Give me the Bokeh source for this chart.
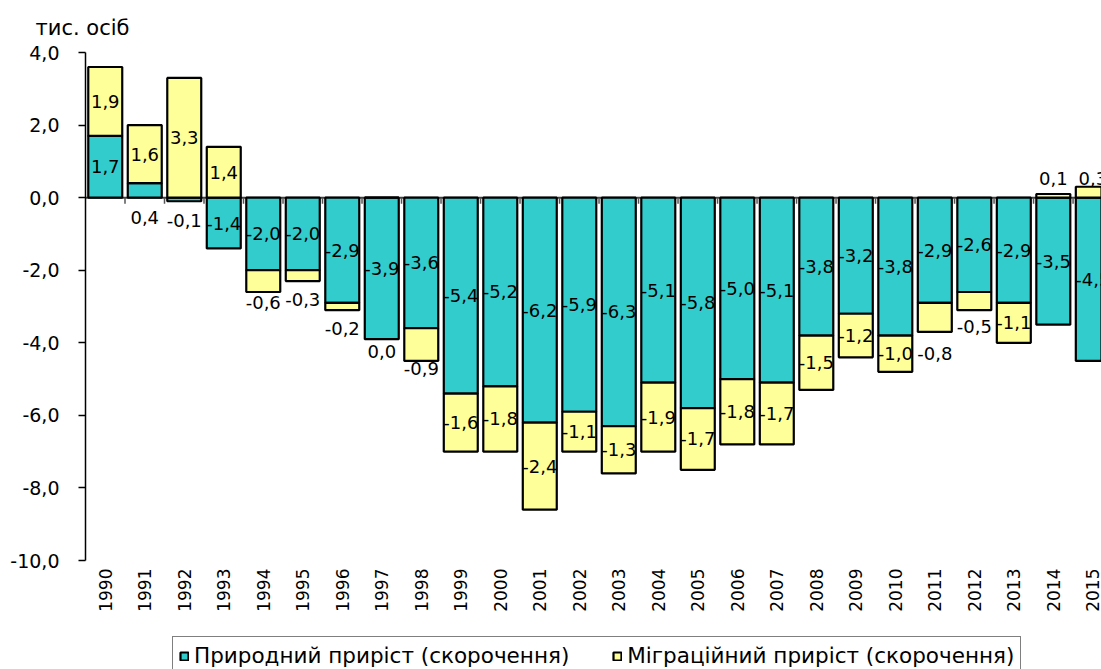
import math
from bokeh.plotting import figure
from bokeh.models import (Range1d, FixedTicker, Span, ColumnDataSource, Legend,
                          LegendItem, Title)
from bokeh.core.properties import value
from bokeh.embed import file_html
from bokeh.resources import INLINE

# ---------------- data ----------------
years = [1990, 1991, 1992, 1993, 1994, 1995, 1996, 1997, 1998, 1999, 2000, 2001, 2002,
         2003, 2004, 2005, 2006, 2007, 2008, 2009, 2010, 2011, 2012, 2013, 2014, 2015]
natural = [1.7, 0.4, -0.1, -1.4, -2.0, -2.0, -2.9, -3.9, -3.6, -5.4, -5.2, -6.2, -5.9,
           -6.3, -5.1, -5.8, -5.0, -5.1, -3.8, -3.2, -3.8, -2.9, -2.6, -2.9, -3.5, -4.5]
migration = [1.9, 1.6, 3.3, 1.4, -0.6, -0.3, -0.2, 0.0, -0.9, -1.6, -1.8, -2.4, -1.1,
             -1.3, -1.9, -1.7, -1.8, -1.7, -1.5, -1.2, -1.0, -0.8, -0.5, -1.1, 0.1, 0.3]
y_ticks = [-10, -8, -6, -4, -2, 0, 2, 4]
y_tick_labels = ["-10,0", "-8,0", "-6,0", "-4,0", "-2,0", "0,0", "2,0", "4,0"]
series_names = ["Природний приріст (скорочення)", "Міграційний приріст (скорочення)"]
y_unit = "тис. осіб"

# labels that sit outside their segment (label y in data units)
label_outside = {
    (0, 1991): -0.55, (0, 1992): -0.63,
    (1, 1994): -2.9, (1, 1995): -2.8, (1, 1996): -3.6, (1, 1997): -4.23,
    (1, 1998): -4.72, (1, 2011): -4.3, (1, 2012): -3.55,
    (1, 2014): 0.52, (1, 2015): 0.52,
}

TEAL = "#33CCCC"
YELLOW = "#FFFF99"
FONT = "DejaVu Sans"

n = len(years)
xs = list(range(n))
y_min, y_max = y_ticks[0], y_ticks[-1]

# stacking: positives up from 0, negatives down from 0 (as Excel does)
pos = [0.0] * n
neg = [0.0] * n
stacks = []
for s_idx, series in enumerate([natural, migration]):
    bottoms, tops = [], []
    for i, v in enumerate(series):
        if v >= 0:
            b, t = pos[i], pos[i] + v
            pos[i] = t
        else:
            b, t = neg[i], neg[i] + v
            neg[i] = t
        bottoms.append(b)
        tops.append(t)
    stacks.append((bottoms, tops))

def fmt(v):
    return f"{v:.1f}".replace(".", ",")

lx, ly, lt = [], [], []
for s_idx, series in enumerate([natural, migration]):
    bottoms, tops = stacks[s_idx]
    for i, v in enumerate(series):
        key = (s_idx, years[i])
        y = label_outside.get(key, (bottoms[i] + tops[i]) / 2)
        lx.append(xs[i])
        ly.append(y)
        lt.append(fmt(v))

# ---------------- figure ----------------
W, H = 1101, 669
TOP, LEFT = 52, 85
AXIS_PX = 508                      # pixel height of the y-axis span (-10 .. 4)
frame_h = H - TOP
y_lo = y_max - (y_max - y_min) * frame_h / AXIS_PX   # frame extends below -10 for labels/legend

p = figure(width=W, height=H, x_range=Range1d(-0.5, 25.22), y_range=Range1d(y_lo, y_max),
           output_backend="svg", toolbar_location=None, x_axis_location=None,
           min_border_left=LEFT, min_border_right=0, min_border_top=TOP, min_border_bottom=0)
p.outline_line_color = None
p.xgrid.visible = False
p.ygrid.visible = False
p.background_fill_color = "white"
p.border_fill_color = "white"

p.title = Title(text=y_unit, align="left", offset=-50, standoff=25,
                text_font=FONT, text_font_size="21px", text_font_style="normal",
                text_color="black")

zero = Span(location=0, dimension="width", line_color="#404040", line_width=2, level="underlay")
p.add_layout(zero)

# category-boundary tick marks on the zero axis
bx = [i + 0.5 for i in range(n - 1)]
p.segment(x0=bx, y0=[0] * len(bx), x1=bx, y1=[-0.17] * len(bx),
          line_color="#555555", line_width=1.5)

r1 = p.vbar(x=xs, bottom=stacks[0][0], top=stacks[0][1], width=0.86,
            fill_color=TEAL, line_color="black", line_width=2.2)
r2 = p.vbar(x=xs, bottom=stacks[1][0], top=stacks[1][1], width=0.86,
            fill_color=YELLOW, line_color="black", line_width=2.2)

src = ColumnDataSource(dict(x=lx, y=ly, text=lt))
p.text(x="x", y="y", text="text", source=src, text_font=value(FONT),
       text_font_size=value("18px"), text_align="center", text_baseline="middle",
       text_color="black")

# category (year) labels, vertical, under the -10 line
ysrc = ColumnDataSource(dict(x=xs, y=[y_min] * n, text=[str(y) for y in years]))
p.text(x="x", y="y", text="text", source=ysrc, angle=math.pi / 2, y_offset=8,
       text_font=value(FONT), text_font_size=value("17px"), text_align="right",
       text_baseline="middle", text_color="black")

# y axis
p.yaxis.ticker = FixedTicker(ticks=y_ticks)
p.yaxis.bounds = (y_min, y_max)
p.yaxis.major_label_overrides = {t: l for t, l in zip(y_ticks, y_tick_labels)}
p.yaxis.major_label_text_font = FONT
p.yaxis.major_label_text_font_size = "19px"
p.yaxis.major_label_text_color = "black"
p.yaxis.axis_line_color = "black"
p.yaxis.axis_line_width = 1.5
p.yaxis.major_tick_line_color = "black"
p.yaxis.major_tick_line_width = 1.5
p.yaxis.major_tick_out = 7
p.yaxis.major_tick_in = 0
p.yaxis.minor_tick_line_color = None
p.yaxis.major_label_standoff = 19

legend = Legend(items=[LegendItem(label=series_names[0], renderers=[r1]),
                       LegendItem(label=series_names[1], renderers=[r2])],
                orientation="horizontal", location=(87, -6), padding=6, spacing=43,
                glyph_width=10, glyph_height=10, label_standoff=5,
                label_text_font=FONT, label_text_font_size="21.5px", label_text_color="black",
                border_line_color="black", border_line_width=1.5,
                background_fill_color="white", margin=0)
p.add_layout(legend)

open("out.html", "w").write(file_html(p, INLINE))
